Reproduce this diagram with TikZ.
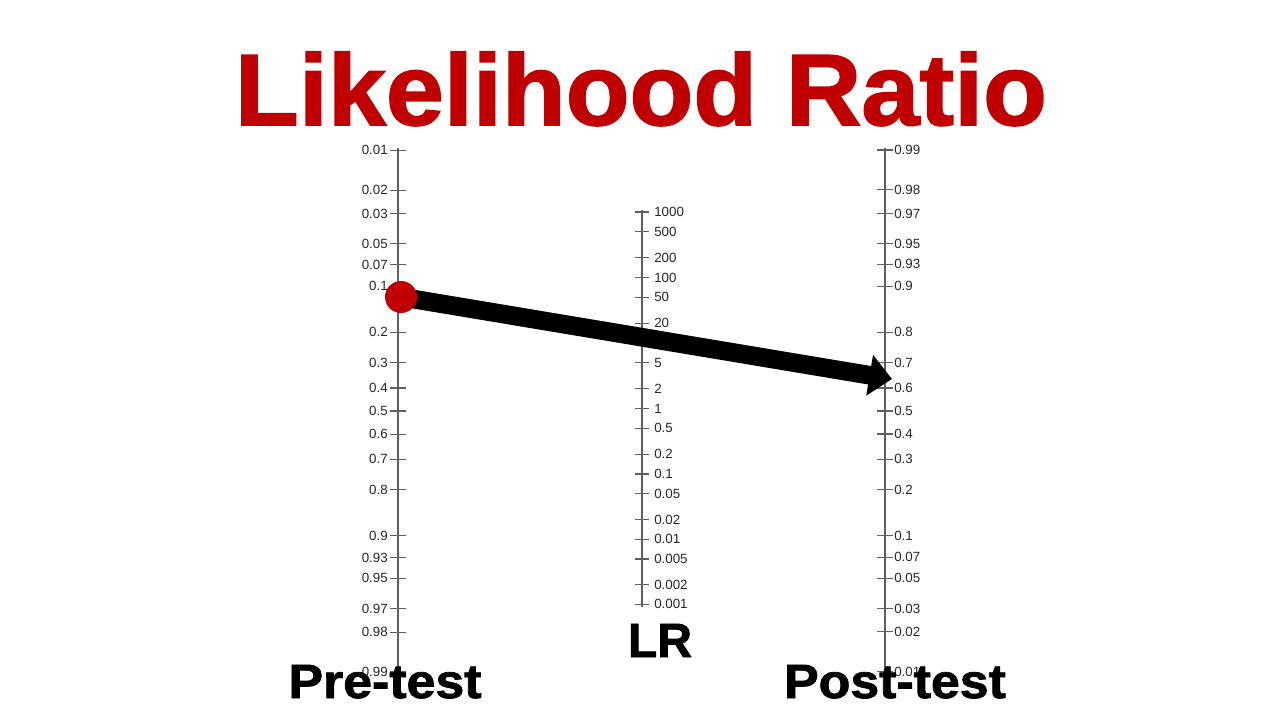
\documentclass[tikz,border=0pt]{standalone}
\usepackage{fontspec}
\setmainfont{Liberation Sans}
\newfontfamily\heavyfont[FakeBold=1.6]{Liberation Sans Bold}
\usetikzlibrary{positioning, arrows.meta, calc}
\definecolor{titlered}{RGB}{192, 0, 0}
\definecolor{axisgray}{RGB}{95, 95, 95}
\tikzset{
  axis/.style={draw=axisgray, line width=0.8pt},
  tick/.style={draw=axisgray, line width=0.8pt},
  ticklbl/.style={font=\fontsize{10}{12}\selectfont, inner sep=0pt, text=black!85},
  bigword/.style={font=\fontsize{36}{40}\selectfont\heavyfont, anchor=base, inner sep=0pt},
  bigarrow/.style={line width=14pt, black, -{Triangle[length=17pt, width=30pt]}}
}
% probability ticks, logit scale
\newcommand{\pretick}[2]{
  \draw[tick] (390, {411+56.8*ln(#2/(1-#2))}) -- ++(16,0);
  \node[ticklbl, anchor=east] (#1) at (388, {411+56.8*ln(#2/(1-#2))}) {#2};
}
\newcommand{\posttick}[2]{
  \draw[tick] (877, {411-56.8*ln(#2/(1-#2))}) -- ++(16,0);
  \node[ticklbl, anchor=west] (#1) at (894, {411-56.8*ln(#2/(1-#2))}) {#2};
}
% likelihood ratio ticks, log scale
\newcommand{\lrtick}[2]{
  \draw[tick] (635, {408.5-28.45*ln(#2)}) -- ++(14,0);
  \node[ticklbl, anchor=west] (#1) at (654, {408.5-28.45*ln(#2)}) {#2};
}

\begin{document}
\begin{tikzpicture}[x=0.75pt, y=-0.75pt]
\useasboundingbox (0,0) rectangle (1280,720);

% Title
\node[font=\fontsize{76}{80}\selectfont\heavyfont, text=titlered, anchor=base, inner sep=0pt] (title) at (641,125) {\scalebox{1.03}[1]{Likelihood Ratio}};

% Axes
\coordinate (pretop) at (398,148);
\coordinate (prebot) at (398,672);
\coordinate (posttop) at (885,148);
\coordinate (postbot) at (885,672);
\coordinate (lrtop) at (642,210);
\coordinate (lrbot) at (642,607);
\draw[axis] (pretop) -- (prebot);
\draw[axis] (posttop) -- (postbot);
\draw[axis] (lrtop) -- (lrbot);

% Pre-test scale
\pretick{pa}{0.01}
\pretick{pb}{0.02}
\pretick{pc}{0.03}
\pretick{pd}{0.05}
\pretick{pe}{0.07}
\pretick{pf}{0.1}
\pretick{pg}{0.2}
\pretick{ph}{0.3}
\pretick{pi}{0.4}
\pretick{pj}{0.5}
\pretick{pk}{0.6}
\pretick{pl}{0.7}
\pretick{pm}{0.8}
\pretick{pn}{0.9}
\pretick{po}{0.93}
\pretick{pp}{0.95}
\pretick{pq}{0.97}
\pretick{pr}{0.98}
\pretick{ps}{0.99}

% Post-test scale
\posttick{qa}{0.99}
\posttick{qb}{0.98}
\posttick{qc}{0.97}
\posttick{qd}{0.95}
\posttick{qe}{0.93}
\posttick{qf}{0.9}
\posttick{qg}{0.8}
\posttick{qh}{0.7}
\posttick{qi}{0.6}
\posttick{qj}{0.5}
\posttick{qk}{0.4}
\posttick{ql}{0.3}
\posttick{qm}{0.2}
\posttick{qn}{0.1}
\posttick{qo}{0.07}
\posttick{qp}{0.05}
\posttick{qq}{0.03}
\posttick{qr}{0.02}
\posttick{qs}{0.01}

% LR scale
\lrtick{la}{1000}
\lrtick{lb}{500}
\lrtick{lc}{200}
\lrtick{ld}{100}
\lrtick{le}{50}
\lrtick{lf}{20}
\lrtick{lg}{5}
\lrtick{lh}{2}
\lrtick{li}{1}
\lrtick{lj}{0.5}
\lrtick{lk}{0.2}
\lrtick{ll}{0.1}
\lrtick{lm}{0.05}
\lrtick{ln}{0.02}
\lrtick{lo}{0.01}
\lrtick{lp}{0.005}
\lrtick{lq}{0.002}
\lrtick{lr}{0.001}

% Pre-test to post-test arrow
\coordinate (start) at (401,297);
\coordinate (finish) at (892,379);
\draw[bigarrow] (start) -- (finish);
\node[circle, fill=titlered, minimum size=24pt, inner sep=0pt] (dot) at (start) {};

% Scale names
\node[bigword] (pretest) at (385,698) {\scalebox{1.08}[1]{Pre-test}};
\node[bigword] (posttest) at (895,698) {\scalebox{1.08}[1]{Post-test}};
\node[bigword] (lrname) at (660,657) {LR};

\end{tikzpicture}
\end{document}
